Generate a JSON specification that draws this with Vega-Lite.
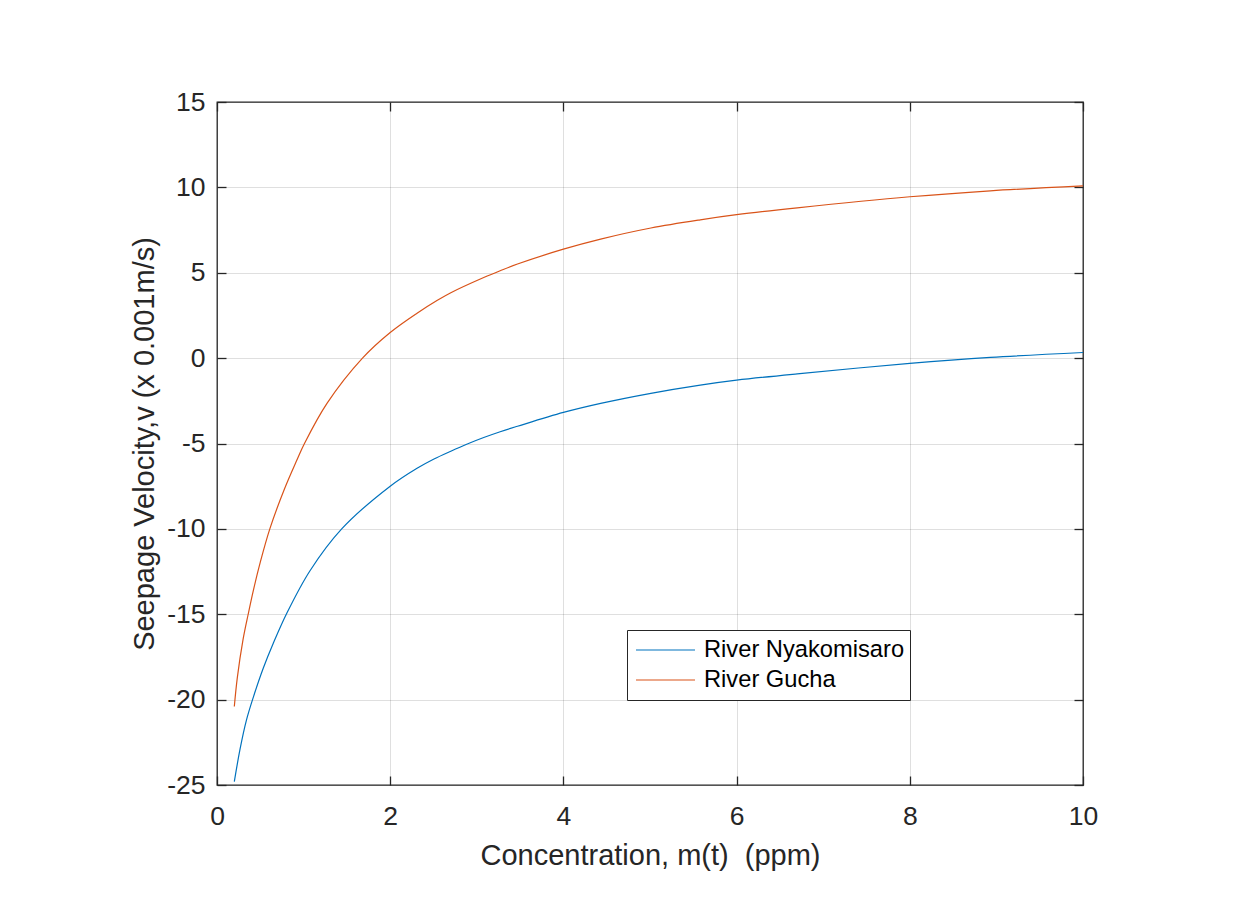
{
  "$schema": "https://vega.github.io/schema/vega-lite/v6.json",
  "width": 866,
  "height": 683,
  "autosize": {"type": "none"},
  "padding": {"left": 217, "top": 102, "right": 170, "bottom": 125},
  "background": "white",
  "config": {
    "font": "Liberation Sans",
    "view": {"stroke": "#262626", "strokeWidth": 1.3},
    "axis": {
      "domain": false,
      "labelFont": "Liberation Sans",
      "labelFontSize": 26.5,
      "labelColor": "#262626",
      "labelFlush": false,
      "titleFont": "Liberation Sans",
      "titleFontSize": 29,
      "titleFontWeight": "normal",
      "titleColor": "#262626",
      "tickColor": "#262626",
      "tickWidth": 1.3,
      "tickSize": -9,
      "gridColor": "#262626",
      "gridOpacity": 0.15,
      "gridWidth": 1
    }
  },
  "data": {
    "values": [
      {"m": 0.2, "v": -24.8, "river": "River Nyakomisaro"},
      {"m": 0.266, "v": -22.9, "river": "River Nyakomisaro"},
      {"m": 0.34, "v": -21.2, "river": "River Nyakomisaro"},
      {"m": 0.42, "v": -19.85, "river": "River Nyakomisaro"},
      {"m": 0.535, "v": -18.15, "river": "River Nyakomisaro"},
      {"m": 0.65, "v": -16.7, "river": "River Nyakomisaro"},
      {"m": 0.81, "v": -14.9, "river": "River Nyakomisaro"},
      {"m": 1.074, "v": -12.45, "river": "River Nyakomisaro"},
      {"m": 1.44, "v": -10.0, "river": "River Nyakomisaro"},
      {"m": 2.0, "v": -7.5, "river": "River Nyakomisaro"},
      {"m": 2.31, "v": -6.45, "river": "River Nyakomisaro"},
      {"m": 2.5, "v": -5.92, "river": "River Nyakomisaro"},
      {"m": 2.7, "v": -5.45, "river": "River Nyakomisaro"},
      {"m": 2.89, "v": -5.03, "river": "River Nyakomisaro"},
      {"m": 3.08, "v": -4.65, "river": "River Nyakomisaro"},
      {"m": 3.27, "v": -4.31, "river": "River Nyakomisaro"},
      {"m": 3.47, "v": -3.99, "river": "River Nyakomisaro"},
      {"m": 4.0, "v": -3.18, "river": "River Nyakomisaro"},
      {"m": 4.43, "v": -2.65, "river": "River Nyakomisaro"},
      {"m": 5.01, "v": -2.06, "river": "River Nyakomisaro"},
      {"m": 5.58, "v": -1.58, "river": "River Nyakomisaro"},
      {"m": 6.0, "v": -1.29, "river": "River Nyakomisaro"},
      {"m": 6.7, "v": -0.92, "river": "River Nyakomisaro"},
      {"m": 8.0, "v": -0.31, "river": "River Nyakomisaro"},
      {"m": 8.93, "v": 0.04, "river": "River Nyakomisaro"},
      {"m": 10.0, "v": 0.33, "river": "River Nyakomisaro"},
      {"m": 0.2, "v": -20.4, "river": "River Gucha"},
      {"m": 0.235, "v": -18.7, "river": "River Gucha"},
      {"m": 0.3, "v": -16.5, "river": "River Gucha"},
      {"m": 0.36, "v": -15.0, "river": "River Gucha"},
      {"m": 0.42, "v": -13.6, "river": "River Gucha"},
      {"m": 0.5, "v": -11.95, "river": "River Gucha"},
      {"m": 0.61, "v": -10.0, "river": "River Gucha"},
      {"m": 0.78, "v": -7.65, "river": "River Gucha"},
      {"m": 0.92, "v": -6.0, "river": "River Gucha"},
      {"m": 1.01, "v": -5.0, "river": "River Gucha"},
      {"m": 1.27, "v": -2.65, "river": "River Gucha"},
      {"m": 1.68, "v": 0.0, "river": "River Gucha"},
      {"m": 2.0, "v": 1.5, "river": "River Gucha"},
      {"m": 2.31, "v": 2.63, "river": "River Gucha"},
      {"m": 2.54, "v": 3.37, "river": "River Gucha"},
      {"m": 2.7, "v": 3.83, "river": "River Gucha"},
      {"m": 3.08, "v": 4.72, "river": "River Gucha"},
      {"m": 3.27, "v": 5.12, "river": "River Gucha"},
      {"m": 3.47, "v": 5.51, "river": "River Gucha"},
      {"m": 4.0, "v": 6.38, "river": "River Gucha"},
      {"m": 4.43, "v": 6.97, "river": "River Gucha"},
      {"m": 5.01, "v": 7.62, "river": "River Gucha"},
      {"m": 5.58, "v": 8.1, "river": "River Gucha"},
      {"m": 6.0, "v": 8.4, "river": "River Gucha"},
      {"m": 6.7, "v": 8.8, "river": "River Gucha"},
      {"m": 8.0, "v": 9.45, "river": "River Gucha"},
      {"m": 8.93, "v": 9.8, "river": "River Gucha"},
      {"m": 10.0, "v": 10.09, "river": "River Gucha"}
    ]
  },
  "layer": [
    {
      "mark": {"type": "line", "interpolate": "catmull-rom", "strokeWidth": 1.2},
      "encoding": {
        "x": {
          "field": "m", "type": "quantitative",
          "scale": {"domain": [0, 10], "nice": false, "zero": false},
          "axis": {
            "orient": "bottom",
            "values": [0, 2, 4, 6, 8, 10],
            "labelExpr": "'' + datum.value",
            "labelPadding": 27,
            "title": "Concentration, m(t) \u00a0(ppm)",
            "titlePadding": 12
          }
        },
        "y": {
          "field": "v", "type": "quantitative",
          "scale": {"domain": [-25, 15], "nice": false, "zero": false},
          "axis": {
            "orient": "left",
            "values": [-25, -20, -15, -10, -5, 0, 5, 10, 15],
            "labelExpr": "'' + datum.value",
            "labelPadding": 21,
            "title": "Seepage Velocity,v (x 0.001m/s)",
            "titlePadding": 7
          }
        },
        "color": {
          "field": "river", "type": "nominal",
          "scale": {"domain": ["River Nyakomisaro", "River Gucha"], "range": ["#0072BD", "#D95319"]},
          "legend": {
            "title": null,
            "orient": "none",
            "legendX": 410,
            "legendY": 528,
            "symbolType": "stroke",
            "symbolSize": 3481,
            "symbolStrokeWidth": 1.2,
            "symbolOffset": 3,
            "clipHeight": 30,
            "rowPadding": 0,
            "padding": 5,
            "labelOffset": 8,
            "labelLimit": 0,
            "labelFont": "Liberation Sans",
            "labelFontSize": 23.7,
            "labelColor": "#000000",
            "strokeColor": "#262626",
            "fillColor": "white"
          }
        }
      }
    },
    {
      "mark": {"type": "line", "strokeOpacity": 0},
      "encoding": {
        "x": {
          "field": "m", "type": "quantitative",
          "scale": {"domain": [0, 10], "nice": false, "zero": false},
          "axis": {"orient": "top", "values": [0, 2, 4, 6, 8, 10], "labels": false, "grid": false, "title": null}
        },
        "y": {
          "field": "v", "type": "quantitative",
          "scale": {"domain": [-25, 15], "nice": false, "zero": false},
          "axis": {"orient": "right", "values": [-25, -20, -15, -10, -5, 0, 5, 10, 15], "labels": false, "grid": false, "title": null}
        },
        "detail": {"field": "river", "type": "nominal"}
      }
    }
  ],
  "resolve": {
    "scale": {"x": "independent", "y": "independent"},
    "axis": {"x": "independent", "y": "independent"}
  }
}
